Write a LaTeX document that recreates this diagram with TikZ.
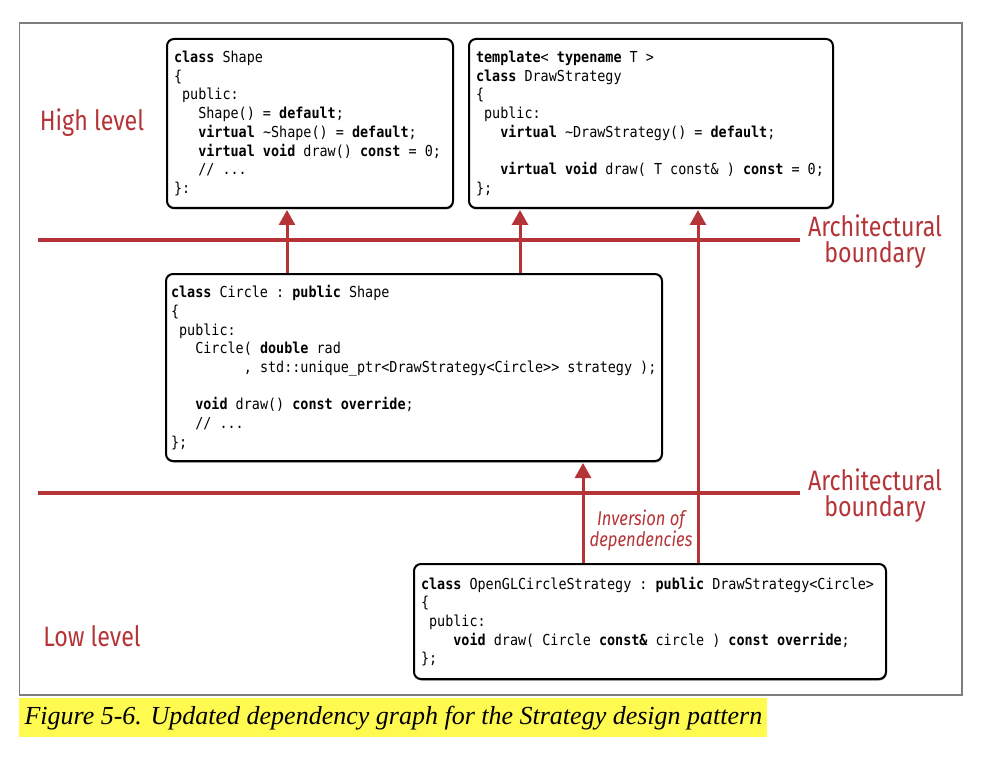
\documentclass[tikz,border=0pt]{standalone}
\usepackage{fontspec}
\usepackage{tikz}
\usetikzlibrary{arrows.meta, shadows}

\newfontfamily\codefont[FakeStretch=0.89]{DejaVu Sans Mono}
\newfontfamily\labelfont[FakeStretch=0.83]{Fira Sans}
\newfontfamily\capfont{Liberation Serif}

\definecolor{archred}{RGB}{181,52,56}
\definecolor{hilite}{RGB}{255,250,80}
\definecolor{framegray}{RGB}{125,125,125}

\newcommand{\kw}[1]{\textbf{#1}}
\newcommand{\ind}[1]{\hphantom{#1}}
\newcommand{\spc}{\hphantom{x}}

\tikzset{
  codebox/.style={draw=black, line width=2pt, rounded corners=7pt, fill=white,
    anchor=north west, align=flush left, inner xsep=7pt, inner ysep=0pt,
    font=\codefont\fontsize{15.1}{18.7}\selectfont,
    drop shadow={shadow xshift=0.5pt, shadow yshift=-1.5pt, fill=black, opacity=0.45}},
  boundary/.style={archred, line width=4.5pt},
  dep/.style={archred, line width=3pt, shorten >=1pt, -{Triangle[width=16pt, length=15pt]}},
  levellabel/.style={text=archred, font=\labelfont\fontsize{28}{26}\selectfont, align=center},
}

\begin{document}
\begin{tikzpicture}[x=1pt, y=-1pt]
  \useasboundingbox (0,0) rectangle (996,762);
  \def\lineL{38};
  \def\lineR{800};
  \def\upper{240};
  \def\lower{493};

  % frame and caption
  \draw [framegray, line width=1.2pt] (19.5,23) rectangle (962,695);
  \fill [hilite] (19,698) rectangle (767,737);
  \node [anchor=west, font=\capfont\itshape\fontsize{26}{30}\selectfont] (caption) at (21,718)
    {Figure 5-6. Updated dependency graph for the Strategy design pattern};

  % boundaries
  \draw [boundary] (\lineL,\upper) -- (\lineR,\upper);
  \draw [boundary] (\lineL,\lower) -- (\lineR,\lower);
  \node [levellabel] (bound1) at (875,242) {Architectural\\boundary};
  \node [levellabel] (bound2) at (875,496) {Architectural\\boundary};
  \node [levellabel] (high) at (92,123) {High level};
  \node [levellabel] (low) at (92,636) {Low level};

  \node [codebox, text width=272pt, minimum height=169pt] (shape) at (166,38) {%
    \kw{class}\spc Shape\\
    \{\\
    \ind{x}public:\\
    \ind{xxx}Shape()\spc=\spc\kw{default};\\
    \ind{xxx}\kw{virtual}\spc\textasciitilde Shape()\spc=\spc\kw{default};\\
    \ind{xxx}\kw{virtual}\spc\kw{void}\spc draw()\spc\kw{const}\spc=\spc0;\\
    \ind{xxx}//\spc...\\
    \}:};

  \node [codebox, text width=350pt, minimum height=169pt] (strategy) at (468,38) {%
    \kw{template}<\spc\kw{typename}\spc T\spc>\\
    \kw{class}\spc DrawStrategy\\
    \{\\
    \ind{x}public:\\
    \ind{xxx}\kw{virtual}\spc\textasciitilde DrawStrategy()\spc=\spc\kw{default};\\
    \mbox{}\\
    \ind{xxx}\kw{virtual}\spc\kw{void}\spc draw(\spc T\spc const\&\spc)\spc\kw{const}\spc=\spc0;\\
    \};};

  \node [codebox, inner xsep=5pt, text width=486pt, minimum height=187pt] (circle) at (165,273) {%
    \kw{class}\spc Circle\spc:\spc\kw{public}\spc Shape\\
    \{\\
    \ind{x}public:\\
    \ind{xxx}Circle(\spc\kw{double}\spc rad\\
    \ind{xxxxxxxxx},\spc std::unique\_ptr<DrawStrategy<Circle>\kern0pt>\spc strategy\spc);\\
    \mbox{}\\
    \ind{xxx}\kw{void}\spc draw()\spc\kw{const}\spc\kw{override};\\
    \ind{xxx}//\spc...\\
    \};};

  \node [codebox, text width=458pt, minimum height=115pt] (opengl) at (413,563) {%
    \kw{class}\spc OpenGLCircleStrategy\spc:\spc\kw{public}\spc DrawStrategy<Circle>\\
    \{\\
    \ind{x}public:\\
    \ind{xxxx}\kw{void}\spc draw(\spc Circle\spc\kw{const\&}\spc circle\spc)\spc\kw{const}\spc\kw{override};\\
    \};};

  % dependencies
  \coordinate (ax1) at (287,0);
  \coordinate (ax2) at (520,0);
  \coordinate (ax3) at (583,0);
  \coordinate (ax4) at (698,0);
  \draw [dep] (circle.north -| ax1) -- (shape.south -| ax1);
  \draw [dep] (circle.north -| ax2) -- (strategy.south -| ax2);
  \draw [dep] (opengl.north -| ax3) -- (circle.south -| ax3);
  \draw [dep] (opengl.north -| ax4) -- (strategy.south -| ax4);

  \node [text=archred, font=\labelfont\itshape\fontsize{20}{21}\selectfont, align=center] (inversion) at (641,530)
    {Inversion of\\dependencies};
\end{tikzpicture}
\end{document}
